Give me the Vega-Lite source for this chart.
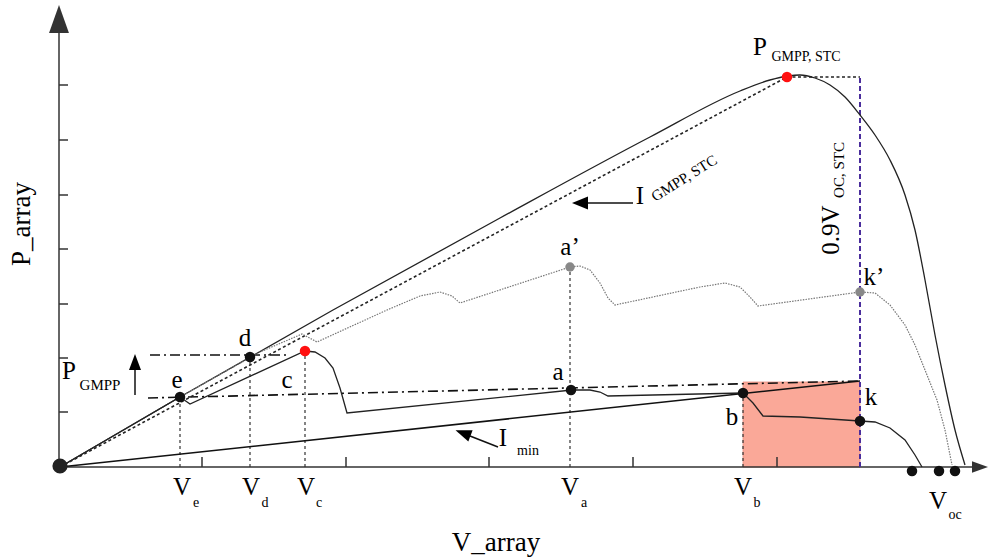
{
  "$schema": "https://vega.github.io/schema/vega-lite/v6.json",
  "width": 988,
  "height": 558,
  "autosize": {"type": "fit", "contains": "padding"},
  "padding": 0,
  "background": "white",
  "config": {"view": {"stroke": null}},
  "encoding": {
    "x": {"field": "v", "type": "quantitative", "scale": {"domain": [-60, 928], "nice": false, "zero": false}, "axis": null},
    "y": {"field": "p", "type": "quantitative", "scale": {"domain": [-91, 467], "nice": false, "zero": false}, "axis": null}
  },
  "layer": [
    {
      "data": {"values": [{"v": 683, "p": 0, "v2": 800, "p2": 85}]},
      "mark": {"type": "rect", "color": "#faa898", "stroke": "#e98f80", "strokeWidth": 0.8},
      "encoding": {"x2": {"field": "v2"}, "y2": {"field": "p2"}}
    },
    {
      "data": {"values": [
        {"v": -1, "p": 0, "v2": -1, "p2": 434},
        {"v": -1, "p": 0, "v2": 915, "p2": 0},
        {"v": -1, "p": 382, "v2": 8, "p2": 382},
        {"v": -1, "p": 327, "v2": 8, "p2": 327},
        {"v": -1, "p": 272, "v2": 8, "p2": 272},
        {"v": -1, "p": 218, "v2": 8, "p2": 218},
        {"v": -1, "p": 163, "v2": 8, "p2": 163},
        {"v": -1, "p": 109, "v2": 8, "p2": 109},
        {"v": -1, "p": 55, "v2": 8, "p2": 55},
        {"v": 142, "p": 0, "v2": 142, "p2": 10},
        {"v": 286, "p": 0, "v2": 286, "p2": 10},
        {"v": 429, "p": 0, "v2": 429, "p2": 10},
        {"v": 573, "p": 0, "v2": 573, "p2": 10},
        {"v": 717, "p": 0, "v2": 717, "p2": 10}
      ]},
      "mark": {"type": "rule", "color": "#333333", "strokeWidth": 1.5},
      "encoding": {"x2": {"field": "v2"}, "y2": {"field": "p2"}}
    },
    {
      "data": {"values": [
        {"v": 120, "p": 0, "v2": 120, "p2": 70},
        {"v": 190, "p": 0, "v2": 190, "p2": 110},
        {"v": 245, "p": 0, "v2": 245, "p2": 116},
        {"v": 510, "p": 0, "v2": 510, "p2": 200},
        {"v": 683, "p": 0, "v2": 683, "p2": 74}
      ]},
      "mark": {"type": "rule", "color": "#333333", "strokeWidth": 1.2, "strokeDash": [3, 3]},
      "encoding": {"x2": {"field": "v2"}, "y2": {"field": "p2"}}
    },
    {
      "data": {"values": [
        {"v": 88, "p": 69, "v2": 800, "p2": 86},
        {"v": 90, "p": 112, "v2": 230, "p2": 112}
      ]},
      "mark": {"type": "rule", "color": "#111111", "strokeWidth": 1.6, "strokeDash": [10, 4, 2, 4]},
      "encoding": {"x2": {"field": "v2"}, "y2": {"field": "p2"}}
    },
    {
      "data": {"values": [
        {"v": 0, "p": 0, "v2": 800, "p2": 86},
        {"v": 75, "p": 72, "v2": 75, "p2": 99},
        {"v": 573, "p": 264, "v2": 528, "p2": 264},
        {"v": 438, "p": 20, "v2": 410, "p2": 31}
      ]},
      "mark": {"type": "rule", "color": "#111111", "strokeWidth": 1.5},
      "encoding": {"x2": {"field": "v2"}, "y2": {"field": "p2"}}
    },
    {
      "data": {"values": [{"v": 800, "p": 0, "v2": 800, "p2": 390}]},
      "mark": {"type": "rule", "color": "#4a2d9c", "strokeWidth": 2, "strokeDash": [5, 3]},
      "encoding": {"x2": {"field": "v2"}, "y2": {"field": "p2"}}
    },
    {
      "data": {"values": [
        {"v": 0, "p": 0}, {"v": 727, "p": 390}, {"v": 800, "p": 390}
      ]},
      "mark": {"type": "line", "color": "#222222", "strokeWidth": 1.6, "strokeDash": [3, 2.5]},
      "encoding": {}
    },
    {
      "data": {"values": [
        {"v": 0, "p": 0}, {"v": 120, "p": 70}, {"v": 273, "p": 157}, {"v": 440, "p": 249},
        {"v": 590, "p": 330}, {"v": 680, "p": 376}, {"v": 710, "p": 387}, {"v": 728, "p": 391},
        {"v": 740, "p": 392}, {"v": 755, "p": 389}, {"v": 770, "p": 382}, {"v": 785, "p": 370},
        {"v": 800, "p": 352}, {"v": 815, "p": 332}, {"v": 830, "p": 307}, {"v": 845, "p": 272},
        {"v": 855, "p": 237}, {"v": 865, "p": 187}, {"v": 875, "p": 132}, {"v": 885, "p": 82},
        {"v": 895, "p": 37}, {"v": 905, "p": 2}
      ]},
      "mark": {"type": "line", "color": "#222222", "strokeWidth": 1.3, "interpolate": "monotone"},
      "encoding": {}
    },
    {
      "data": {"values": [
        {"v": 0, "p": 0}, {"v": 120, "p": 70}, {"v": 200, "p": 115}, {"v": 242, "p": 133},
        {"v": 257, "p": 125}, {"v": 327, "p": 157}, {"v": 360, "p": 171}, {"v": 380, "p": 175},
        {"v": 392, "p": 171}, {"v": 400, "p": 164}, {"v": 510, "p": 200}, {"v": 520, "p": 201},
        {"v": 530, "p": 197}, {"v": 540, "p": 184}, {"v": 548, "p": 169}, {"v": 555, "p": 162},
        {"v": 640, "p": 180}, {"v": 665, "p": 184}, {"v": 680, "p": 180}, {"v": 690, "p": 170},
        {"v": 698, "p": 161}, {"v": 800, "p": 175}, {"v": 815, "p": 174}, {"v": 830, "p": 162},
        {"v": 845, "p": 142}, {"v": 855, "p": 122}, {"v": 865, "p": 97}, {"v": 877, "p": 67},
        {"v": 885, "p": 37}, {"v": 892, "p": 2}
      ]},
      "mark": {"type": "line", "color": "#777777", "strokeWidth": 1.2, "strokeDash": [1.5, 1.2]},
      "encoding": {}
    },
    {
      "data": {"values": [
        {"v": 0, "p": 0}, {"v": 120, "p": 70}, {"v": 130, "p": 63}, {"v": 245, "p": 116},
        {"v": 255, "p": 115}, {"v": 265, "p": 109}, {"v": 273, "p": 99}, {"v": 280, "p": 79},
        {"v": 287, "p": 54}, {"v": 512, "p": 77}, {"v": 530, "p": 77}, {"v": 540, "p": 75},
        {"v": 548, "p": 71}, {"v": 683, "p": 74}, {"v": 693, "p": 64}, {"v": 703, "p": 51},
        {"v": 740, "p": 50}, {"v": 800, "p": 46}, {"v": 815, "p": 45}, {"v": 830, "p": 39},
        {"v": 845, "p": 27}, {"v": 855, "p": 12}, {"v": 862, "p": 0}
      ]},
      "mark": {"type": "line", "color": "#222222", "strokeWidth": 1.3},
      "encoding": {}
    },
    {
      "data": {"values": [{"v": 0, "p": 1}]},
      "mark": {"type": "point", "filled": true, "shape": "circle", "size": 230, "color": "#222222", "opacity": 1}
    },
    {
      "data": {"values": [
        {"v": 120, "p": 70}, {"v": 190, "p": 110}, {"v": 511, "p": 77}, {"v": 683, "p": 74},
        {"v": 800, "p": 46}, {"v": 852, "p": -4}, {"v": 879, "p": -4}, {"v": 895, "p": -4}
      ]},
      "mark": {"type": "point", "filled": true, "shape": "circle", "size": 110, "color": "#111111", "opacity": 1}
    },
    {
      "data": {"values": [{"v": 245, "p": 116}, {"v": 727, "p": 390}]},
      "mark": {"type": "point", "filled": true, "shape": "circle", "size": 110, "color": "#ff1010", "opacity": 1}
    },
    {
      "data": {"values": [{"v": 510, "p": 200}, {"v": 800, "p": 175}]},
      "mark": {"type": "point", "filled": true, "shape": "circle", "size": 90, "color": "#888888", "opacity": 1}
    },
    {
      "data": {"values": [{"v": -1, "p": 448}]},
      "mark": {"type": "point", "filled": true, "shape": "M0,-1L0.71,1L-0.71,1Z", "size": 784, "color": "#333333", "opacity": 1}
    },
    {
      "data": {"values": [{"v": 920, "p": 0}]},
      "mark": {"type": "point", "filled": true, "shape": "M1,0L-1,-0.72L-1,0.72Z", "size": 256, "color": "#333333", "opacity": 1}
    },
    {
      "data": {"values": [{"v": 75, "p": 105}]},
      "mark": {"type": "point", "filled": true, "shape": "M0,-1L0.75,1L-0.75,1Z", "size": 256, "color": "#000000", "opacity": 1}
    },
    {
      "data": {"values": [{"v": 520, "p": 264}]},
      "mark": {"type": "point", "filled": true, "shape": "M-1,0L1,-0.8L1,0.8Z", "size": 256, "color": "#000000", "opacity": 1}
    },
    {
      "data": {"values": [{"v": 403, "p": 34}]},
      "mark": {"type": "point", "filled": true, "shape": "M0,-1L0.75,1L-0.75,1Z", "size": 256, "angle": 291, "color": "#000000", "opacity": 1}
    },
    {
      "data": {"values": [
        {"v": 510, "p": 220, "t": "a’"},
        {"v": 498, "p": 95, "t": "a"},
        {"v": 672, "p": 50, "t": "b"},
        {"v": 227, "p": 87, "t": "c"},
        {"v": 185, "p": 129, "t": "d"},
        {"v": 117, "p": 87, "t": "e"},
        {"v": 811, "p": 70, "t": "k"},
        {"v": 814, "p": 190, "t": "k’"},
        {"v": 122, "p": -20, "t": "V"},
        {"v": 191, "p": -20, "t": "V"},
        {"v": 246, "p": -20, "t": "V"},
        {"v": 510, "p": -20, "t": "V"},
        {"v": 683, "p": -20, "t": "V"},
        {"v": 878, "p": -34, "t": "V"},
        {"v": 9, "p": 96, "t": "P"},
        {"v": 700, "p": 420, "t": "P"},
        {"v": 580, "p": 271, "t": "I"},
        {"v": 443, "p": 29, "t": "I"}
      ]},
      "mark": {"type": "text", "font": "Liberation Serif", "fontSize": 25, "color": "#000000", "align": "center", "baseline": "middle"},
      "encoding": {"text": {"field": "t"}}
    },
    {
      "data": {"values": [{"v": 436, "p": -76, "t": "V_array"}]},
      "mark": {"type": "text", "font": "Liberation Serif", "fontSize": 27, "color": "#000000", "align": "center", "baseline": "middle"},
      "encoding": {"text": {"field": "t"}}
    },
    {
      "data": {"values": [
        {"v": 136, "p": -36, "t": "e"},
        {"v": 205, "p": -36, "t": "d"},
        {"v": 259, "p": -36, "t": "c"},
        {"v": 524, "p": -36, "t": "a"},
        {"v": 697, "p": -36, "t": "b"},
        {"v": 895, "p": -48, "t": "oc"},
        {"v": 468, "p": 16, "t": "min"}
      ]},
      "mark": {"type": "text", "font": "Liberation Serif", "fontSize": 14, "color": "#000000", "align": "center", "baseline": "middle"},
      "encoding": {"text": {"field": "t"}}
    },
    {
      "data": {"values": [{"v": 40, "p": 82, "t": "GMPP"}]},
      "mark": {"type": "text", "font": "Liberation Serif", "fontSize": 15, "color": "#000000", "align": "center", "baseline": "middle"},
      "encoding": {"text": {"field": "t"}}
    },
    {
      "data": {"values": [{"v": 746, "p": 410, "t": "GMPP, STC"}]},
      "mark": {"type": "text", "font": "Liberation Serif", "fontSize": 14, "color": "#000000", "align": "center", "baseline": "middle"},
      "encoding": {"text": {"field": "t"}}
    },
    {
      "data": {"values": [{"v": 624, "p": 289, "t": "GMPP, STC"}]},
      "mark": {"type": "text", "font": "Liberation Serif", "fontSize": 15, "angle": -32, "color": "#000000", "align": "center", "baseline": "middle"},
      "encoding": {"text": {"field": "t"}}
    },
    {
      "data": {"values": [{"v": -38, "p": 243, "t": "P_array"}]},
      "mark": {"type": "text", "font": "Liberation Serif", "fontSize": 27, "angle": 270, "color": "#000000", "align": "center", "baseline": "middle"},
      "encoding": {"text": {"field": "t"}}
    },
    {
      "data": {"values": [{"v": 771, "p": 237, "t": "0.9V"}]},
      "mark": {"type": "text", "font": "Liberation Serif", "fontSize": 25, "angle": 270, "color": "#000000", "align": "center", "baseline": "middle"},
      "encoding": {"text": {"field": "t"}}
    },
    {
      "data": {"values": [{"v": 779, "p": 297, "t": "OC, STC"}]},
      "mark": {"type": "text", "font": "Liberation Serif", "fontSize": 15, "angle": 270, "color": "#000000", "align": "center", "baseline": "middle"},
      "encoding": {"text": {"field": "t"}}
    }
  ]
}
